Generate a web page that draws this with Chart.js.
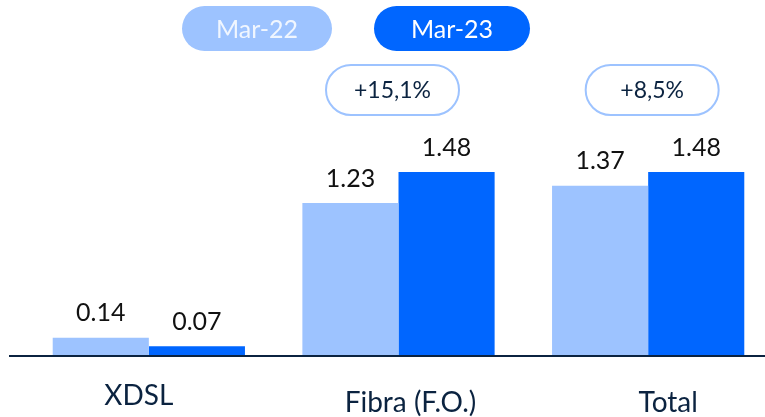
<!DOCTYPE html>
<html><head><meta charset="utf-8">
<script src="https://cdn.jsdelivr.net/npm/chart.js@4.4.1/dist/chart.umd.min.js"></script>
<style>html,body{margin:0;padding:0;background:#fff;overflow:hidden;width:765px;height:417px}canvas{display:block}</style>
</head><body>
<canvas id="c" width="774" height="417"></canvas>
<script>
const categories = ['XDSL', 'Fibra (F.O.)', 'Total'];
const seriesNames = ['Mar-22', 'Mar-23'];
const mar22 = [0.14, 1.23, 1.37];
const mar23 = [0.07, 1.48, 1.48];
const growthLabels = [null, '+15,1%', '+8,5%'];

const LIGHT = '#9DC3FF', DARK = '#0066FF', NAVY = '#0B2340';
const FONT = 'Lato, "Open Sans", sans-serif';

const customDraw = {
  id: 'customDraw',
  afterDatasetsDraw(chart) {
    const ctx = chart.ctx;
    const x = chart.scales.x, y = chart.scales.y;
    const y0 = y.getPixelForValue(0);
    ctx.save();
    // baseline
    ctx.strokeStyle = NAVY; ctx.lineWidth = 2;
    ctx.beginPath(); ctx.moveTo(9, y0 + 1); ctx.lineTo(774, y0 + 1); ctx.stroke();
    // value labels
    ctx.fillStyle = '#111'; ctx.font = '25px ' + FONT;
    ctx.textAlign = 'center'; ctx.textBaseline = 'bottom';
    chart.data.datasets.forEach((ds, di) => {
      chart.getDatasetMeta(di).data.forEach((bar, i) => {
        ctx.fillText(ds.data[i].toFixed(2), bar.x, bar.y - 12);
      });
    });
    // category labels
    const offs = [[-10, 396], [12, 403], [20, 403]];
    ctx.fillStyle = NAVY; ctx.font = '28px ' + FONT; ctx.textBaseline = 'middle';
    categories.forEach((c, i) => {
      ctx.fillText(c, x.getPixelForValue(i) + offs[i][0], offs[i][1]);
    });
    // growth pills
    const goffs = [0, -6, 4];
    ctx.font = '23px ' + FONT;
    growthLabels.forEach((g, i) => {
      if (!g) return;
      const cx = x.getPixelForValue(i) + goffs[i], cy = 90, w = 133, h = 50;
      ctx.beginPath(); ctx.roundRect(cx - w / 2, cy - h / 2, w, h, 25);
      ctx.fillStyle = '#fff'; ctx.fill();
      ctx.strokeStyle = LIGHT; ctx.lineWidth = 2; ctx.stroke();
      ctx.fillStyle = NAVY; ctx.fillText(g, cx, cy + 1);
    });
    // legend pills
    const lp = [[257, 150], [452, 156]];
    ctx.font = '25px ' + FONT;
    chart.data.datasets.forEach((ds, di) => {
      const cx = lp[di][0], w = lp[di][1], cy = 28.5, h = 45;
      ctx.beginPath(); ctx.roundRect(cx - w / 2, cy - h / 2, w, h, 22.5);
      ctx.fillStyle = ds.backgroundColor; ctx.fill();
      ctx.fillStyle = di === 0 ? 'rgba(255,255,255,0.85)' : '#fff';
      ctx.fillText(ds.label, cx, cy + 1);
    });
    ctx.restore();
  }
};

new Chart(document.getElementById('c'), {
  type: 'bar',
  data: {
    labels: categories,
    datasets: [
      { label: seriesNames[0], data: mar22, backgroundColor: LIGHT },
      { label: seriesNames[1], data: mar23, backgroundColor: DARK }
    ]
  },
  options: {
    responsive: false, animation: false,
    layout: { padding: { left: 24, right: 1, top: 46, bottom: 62 } },
    datasets: { bar: { categoryPercentage: 0.77, barPercentage: 1 } },
    scales: {
      x: { display: false },
      y: { display: false, min: 0, max: 2.5 }
    },
    plugins: { legend: { display: false }, tooltip: { enabled: false } }
  },
  plugins: [customDraw]
});
</script>
</body></html>
